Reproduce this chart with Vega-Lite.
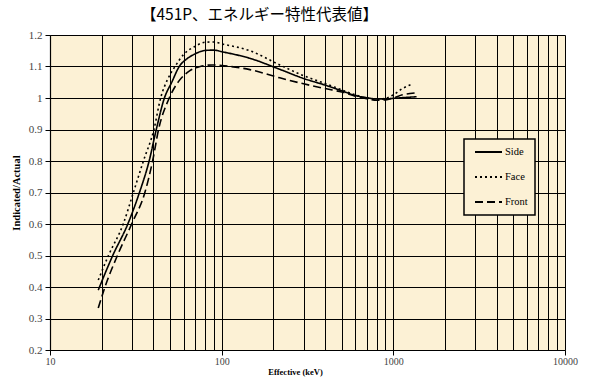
{
  "$schema": "https://vega.github.io/schema/vega-lite/v6.json",
  "width": 515,
  "height": 315,
  "autosize": {"type": "none"},
  "padding": {"left": 50, "top": 35, "right": 26, "bottom": 34},
  "background": "white",
  "title": {"text": "【451P、エネルギー特性代表値】", "font": "Noto Sans CJK JP", "fontSize": 15.5, "fontWeight": "normal", "color": "#000", "anchor": "middle", "frame": "group", "dx": -48, "offset": 6},
  "config": {
    "view": {"fill": "#FCF1D5", "stroke": null}
  },
  "data": {"values": [
    {"s": "Side", "E": 19.1, "v": 0.39},
    {"s": "Side", "E": 23.2, "v": 0.5},
    {"s": "Side", "E": 28.4, "v": 0.6},
    {"s": "Side", "E": 33.2, "v": 0.7},
    {"s": "Side", "E": 37.8, "v": 0.8},
    {"s": "Side", "E": 41.6, "v": 0.9},
    {"s": "Side", "E": 46.4, "v": 1.0},
    {"s": "Side", "E": 51.2, "v": 1.05},
    {"s": "Side", "E": 56.6, "v": 1.1},
    {"s": "Side", "E": 63, "v": 1.125},
    {"s": "Side", "E": 70, "v": 1.14},
    {"s": "Side", "E": 80, "v": 1.151},
    {"s": "Side", "E": 90, "v": 1.152},
    {"s": "Side", "E": 100, "v": 1.147},
    {"s": "Side", "E": 146, "v": 1.126},
    {"s": "Side", "E": 218, "v": 1.091},
    {"s": "Side", "E": 300, "v": 1.062},
    {"s": "Side", "E": 400, "v": 1.041},
    {"s": "Side", "E": 500, "v": 1.023},
    {"s": "Side", "E": 600, "v": 1.008},
    {"s": "Side", "E": 700, "v": 1.001},
    {"s": "Side", "E": 800, "v": 0.997},
    {"s": "Side", "E": 900, "v": 0.997},
    {"s": "Side", "E": 1000, "v": 0.999},
    {"s": "Side", "E": 1366, "v": 1.004},
    {"s": "Face", "E": 19.1, "v": 0.422},
    {"s": "Face", "E": 21.9, "v": 0.5},
    {"s": "Face", "E": 26.7, "v": 0.6},
    {"s": "Face", "E": 30.6, "v": 0.7},
    {"s": "Face", "E": 35.0, "v": 0.8},
    {"s": "Face", "E": 40.3, "v": 0.9},
    {"s": "Face", "E": 44.1, "v": 1.0},
    {"s": "Face", "E": 48.5, "v": 1.06},
    {"s": "Face", "E": 53.5, "v": 1.1},
    {"s": "Face", "E": 60, "v": 1.138},
    {"s": "Face", "E": 70, "v": 1.164},
    {"s": "Face", "E": 80, "v": 1.177},
    {"s": "Face", "E": 90, "v": 1.178},
    {"s": "Face", "E": 100, "v": 1.172},
    {"s": "Face", "E": 146, "v": 1.15},
    {"s": "Face", "E": 218, "v": 1.105},
    {"s": "Face", "E": 300, "v": 1.071},
    {"s": "Face", "E": 400, "v": 1.046},
    {"s": "Face", "E": 500, "v": 1.026},
    {"s": "Face", "E": 600, "v": 1.01},
    {"s": "Face", "E": 700, "v": 1.0},
    {"s": "Face", "E": 800, "v": 0.996},
    {"s": "Face", "E": 900, "v": 0.999},
    {"s": "Face", "E": 1000, "v": 1.01},
    {"s": "Face", "E": 1130, "v": 1.03},
    {"s": "Face", "E": 1300, "v": 1.045},
    {"s": "Front", "E": 19.1, "v": 0.333},
    {"s": "Front", "E": 20.9, "v": 0.4},
    {"s": "Front", "E": 24.7, "v": 0.5},
    {"s": "Front", "E": 29.9, "v": 0.6},
    {"s": "Front", "E": 35.7, "v": 0.7},
    {"s": "Front", "E": 39.6, "v": 0.8},
    {"s": "Front", "E": 42.9, "v": 0.9},
    {"s": "Front", "E": 49.5, "v": 1.0},
    {"s": "Front", "E": 56, "v": 1.052},
    {"s": "Front", "E": 65, "v": 1.086},
    {"s": "Front", "E": 75, "v": 1.1},
    {"s": "Front", "E": 88, "v": 1.105},
    {"s": "Front", "E": 100, "v": 1.103},
    {"s": "Front", "E": 146, "v": 1.09},
    {"s": "Front", "E": 218, "v": 1.064},
    {"s": "Front", "E": 300, "v": 1.045},
    {"s": "Front", "E": 400, "v": 1.03},
    {"s": "Front", "E": 500, "v": 1.019},
    {"s": "Front", "E": 600, "v": 1.006},
    {"s": "Front", "E": 700, "v": 0.998},
    {"s": "Front", "E": 800, "v": 0.993},
    {"s": "Front", "E": 900, "v": 0.994},
    {"s": "Front", "E": 1000, "v": 1.0},
    {"s": "Front", "E": 1130, "v": 1.01},
    {"s": "Front", "E": 1330, "v": 1.016}
  ]},
  "mark": {"type": "line", "interpolate": "monotone", "color": "black", "strokeWidth": 1.6},
  "encoding": {
    "x": {
      "field": "E", "type": "quantitative",
      "scale": {"type": "log", "domain": [10, 10000], "nice": false},
      "axis": {
        "values": [10,20,30,40,50,60,70,80,90,100,200,300,400,500,600,700,800,900,1000,2000,3000,4000,5000,6000,7000,8000,9000,10000],
        "grid": true, "gridColor": "black", "gridWidth": 1, "gridOpacity": 1,
        "domainColor": "black", "domainWidth": 1.2,
        "tickColor": "black", "tickSize": 5, "tickWidth": 1,
        "tickOpacity": {"condition": {"test": "indexof([10,100,1000,10000], datum.value) >= 0", "value": 1}, "value": 0},
        "labelExpr": "indexof([10,100,1000,10000], datum.value) >= 0 ? format(datum.value, 'd') : ''",
        "labelFont": "Liberation Serif", "labelFontSize": 10, "labelColor": "#444", "labelPadding": 1,
        "labelOverlap": false, "labelBound": false, "labelFlush": false,
        "title": "Effective (keV)", "titleFont": "Liberation Serif", "titleFontSize": 8.5, "titleFontWeight": "bold", "titleColor": "black", "titlePadding": 1, "titleX": 245
      }
    },
    "y": {
      "field": "v", "type": "quantitative",
      "scale": {"domain": [0.2, 1.2], "nice": false, "zero": false},
      "axis": {
        "values": [0.2,0.3,0.4,0.5,0.6,0.7,0.8,0.9,1,1.1,1.2],
        "format": "~g",
        "grid": true, "gridColor": "black", "gridWidth": 1, "gridOpacity": 1,
        "domainColor": "black", "domainWidth": 1.2,
        "tickColor": "black", "tickSize": 5,
        "labelFont": "Liberation Serif", "labelFontSize": 11, "labelColor": "#444", "labelPadding": 3,
        "title": "Indicated/Actual", "titleFont": "Liberation Serif", "titleFontSize": 10.5, "titleFontWeight": "bold", "titleColor": "black", "titlePadding": 7
      }
    },
    "strokeDash": {
      "field": "s", "type": "nominal",
      "scale": {"domain": ["Side", "Face", "Front"], "range": [[1, 0], [2, 3], [8, 4]]},
      "legend": {
        "title": null, "orient": "none", "legendX": 414, "legendY": 104, "direction": "vertical",
        "symbolType": "M-2.7,0H2.7", "symbolSize": 100, "symbolStrokeColor": "black", "symbolStrokeWidth": 2, "symbolOffset": 11.5,
        "labelFont": "Liberation Serif", "labelFontSize": 10.5, "labelColor": "black", "labelOffset": 10.5,
        "fillColor": "#FCF1D5", "strokeColor": "black", "padding": 7, "rowPadding": 13,
        "encode": {"legend": {"update": {"strokeWidth": {"value": 1.5}}}}
      }
    }
  }
}
